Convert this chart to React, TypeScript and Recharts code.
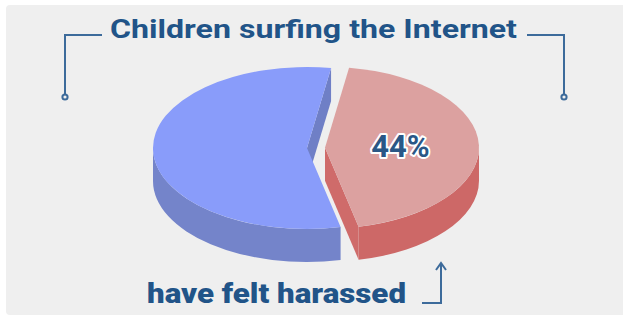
import React from 'react';
import { PieChart, Pie, Cell } from 'recharts';

const categories = ['have felt harassed', 'have not felt harassed'];
const values = [44, 56];
const titleText = 'Children surfing the Internet';
const captionText = 'have felt harassed';

const data = categories.map((name, i) => ({ name, value: values[i] }));

const TOP = ['#dca1a0', '#899cfa'];
const SIDE = ['#cd6867', '#7484ca'];
const CUT = ['#cf6b6a', '#6f7fc6'];
const EXPLODE = [18, 0];
const RATIO = 0.526;
const DEPTH = 33;
const RAD = Math.PI / 180;
const INK = '#215488';
const LINE = '#3d6b9b';

function Slice3D(props: any) {
  const { cx, cy, outerRadius, startAngle, endAngle, index, percent } = props;
  const a1 = Math.min(startAngle, endAngle);
  const a2 = Math.max(startAngle, endAngle);
  const mid = (a1 + a2) / 2;
  const rx = outerRadius;
  const ry = outerRadius * RATIO;
  const ex = EXPLODE[index] || 0;
  const ox = cx + ex * Math.cos(mid * RAD);
  const oy = cy - ex * RATIO * Math.sin(mid * RAD);
  const P = (a: number, d = 0) => [ox + rx * Math.cos(a * RAD), oy - ry * Math.sin(a * RAD) + d];
  const f = (p: number[]) => `${p[0].toFixed(2)},${p[1].toFixed(2)}`;

  const parts: React.ReactNode[] = [];
  if (Math.cos(a1 * RAD) > 0) {
    parts.push(
      <path key="c1" d={`M${f([ox, oy])} L${f(P(a1))} L${f(P(a1, DEPTH))} L${f([ox, oy + DEPTH])} Z`} fill={CUT[index]} />
    );
  }
  if (Math.cos(a2 * RAD) < 0) {
    parts.push(
      <path key="c2" d={`M${f([ox, oy])} L${f(P(a2))} L${f(P(a2, DEPTH))} L${f([ox, oy + DEPTH])} Z`} fill={CUT[index]} />
    );
  }
  for (let k = -2; k <= 2; k++) {
    const lo = Math.max(a1, -180 + 360 * k);
    const hi = Math.min(a2, 360 * k);
    if (hi > lo) {
      parts.push(
        <path
          key={`w${k}`}
          d={`M${f(P(hi))} A${rx},${ry} 0 0 1 ${f(P(lo))} L${f(P(lo, DEPTH))} A${rx},${ry} 0 0 0 ${f(P(hi, DEPTH))} Z`}
          fill={SIDE[index]}
        />
      );
    }
  }
  const large = a2 - a1 > 180 ? 1 : 0;
  parts.push(
    <path key="top" d={`M${f([ox, oy])} L${f(P(a2))} A${rx},${ry} 0 ${large} 1 ${f(P(a1))} Z`} fill={TOP[index]} />
  );
  if (index === 0) {
    const lx = ox + 0.49 * rx * Math.cos(mid * RAD);
    const ly = oy - 0.49 * ry * Math.sin(mid * RAD);
    parts.push(
      <text
        key="lbl"
        x={lx}
        y={ly + 11}
        textAnchor="middle"
        fontFamily="Roboto, sans-serif"
        fontWeight="bold"
        fontSize={31}
        fill="#2a5786"
        stroke="#ffffff"
        strokeWidth={4}
        strokeLinejoin="round"
        paintOrder="stroke"
      >
        {`${Math.round(percent * 100)}%`}
      </text>
    );
  }
  return <g>{parts}</g>;
}

export default function App() {
  return (
    <div style={{ position: 'absolute', left: 0, top: 0, width: 623, height: 319, background: '#ffffff' }}>
      <svg width={623} height={319} style={{ position: 'absolute', left: 0, top: 0 }}>
        <rect x={6} y={5} width={620} height={310} rx={4} fill="#efefef" />
      </svg>
      <div style={{ position: 'absolute', left: 0, top: 0 }}>
        <PieChart width={623} height={319} margin={{ top: 0, right: 0, bottom: 0, left: 0 }}>
          <Pie
            data={data}
            dataKey="value"
            nameKey="name"
            cx={307}
            cy={148}
            outerRadius={154}
            innerRadius={0}
            startAngle={81}
            endAngle={-279}
            stroke="none"
            fill="none"
            isAnimationActive={false}
            labelLine={false}
            label={(p: any) => <Slice3D {...p} />}
          >
            {data.map((d) => (
              <Cell key={d.name} fill="transparent" stroke="none" />
            ))}
          </Pie>
        </PieChart>
      </div>
      <svg width={623} height={319} style={{ position: 'absolute', left: 0, top: 0, pointerEvents: 'none' }}>
        <text
          x={110}
          y={38}
          fontFamily="Roboto, sans-serif"
          fontWeight="bold"
          fontSize={26}
          fill={INK}
          textLength={407}
          lengthAdjust="spacingAndGlyphs"
        >
          {titleText}
        </text>
        <path d="M102 35 L65 35 L65 94" fill="none" stroke={LINE} strokeWidth={2} />
        <circle cx={65} cy={97} r={2.6} fill="#efefef" stroke={LINE} strokeWidth={2} />
        <path d="M527 35 L564 35 L564 94" fill="none" stroke={LINE} strokeWidth={2} />
        <circle cx={564} cy={97} r={2.6} fill="#efefef" stroke={LINE} strokeWidth={2} />
        <text
          x={147}
          y={303}
          fontFamily="Roboto, sans-serif"
          fontWeight="900"
          fontSize={28}
          fill={INK}
          textLength={259}
          lengthAdjust="spacingAndGlyphs"
        >
          {captionText}
        </text>
        <path d="M422 303 L441 303 L441 264" fill="none" stroke={LINE} strokeWidth={2} />
        <path d="M436 270 L441 263 L446 270" fill="none" stroke={LINE} strokeWidth={2} />
      </svg>
    </div>
  );
}
